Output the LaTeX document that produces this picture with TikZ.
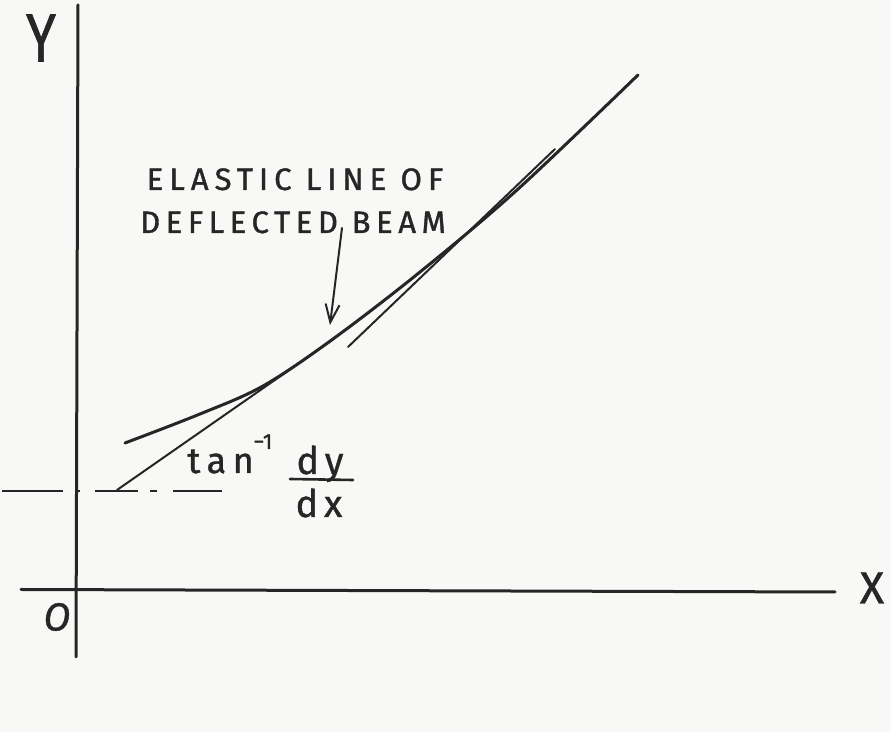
\documentclass[tikz,border=0pt]{standalone}
\usepackage{fontspec}
\setmainfont{Fira Sans}
\usetikzlibrary{arrows.meta}
\definecolor{ink}{RGB}{38,38,38}
\definecolor{paper}{RGB}{248,248,246}
\begin{document}
\begin{tikzpicture}[x=0.5pt,y=-0.5pt,
  axis/.style={draw=ink,line width=1.5pt,line cap=round},
  beamline/.style={draw=ink,line width=1.5pt,line cap=round},
  tangentline/.style={draw=ink,line width=1.0pt,line cap=round},
  refline/.style={draw=ink,line width=1.4pt,
     dash pattern=on 24.5pt off 8pt on 3.5pt off 6pt on 21.5pt off 7.5pt on 2.5pt off 6pt on 30.5pt off 8pt},
  pointer/.style={draw=ink,line width=1.0pt,line cap=round,-{Straight Barb[length=9pt,width=7pt,line width=1pt]}},
  lbl/.style={text=ink,inner sep=0pt}]
\fill[paper] (0,0) rectangle (891,732);
\useasboundingbox (0,0) rectangle (891,732);

% axes
\coordinate (yTop) at (78,5);
\coordinate (yBot) at (76,657);
\coordinate (xL) at (21,589.5);
\coordinate (xR) at (835,592);
\draw[axis] (yBot) -- (yTop);
\draw[axis] (xL) -- (xR);

% elastic line of the deflected beam
\draw[beamline] plot[smooth,tension=0.55] coordinates
  {(125,443) (200,414) (263,386) (333,339) (420,272) (517,190) (638,75)};

% tangent lines
\coordinate (t1a) at (117,490);
\coordinate (t1b) at (333,339.5);
\draw[tangentline] (t1a) -- (t1b);
\coordinate (t2a) at (348,347);
\coordinate (t2b) at (555,149);
\draw[tangentline] (t2a) -- (t2b);

% horizontal dash-dot reference
\coordinate (hR) at (222,491);
\coordinate (hL) at (2,491);
\draw[refline] (hR) -- (hL);

% labels
\node[lbl,font=\addfontfeatures{FakeBold=1}\fontsize{34}{34}\selectfont,xscale=0.8] (ylab) at (41,38) {Y};
\node[lbl,font=\addfontfeatures{FakeBold=1}\fontsize{22.5}{23}\selectfont] (xlab) at (872,588) {X};
\node[lbl,font=\itshape\addfontfeatures{FakeBold=1}\fontsize{19.6}{20}\selectfont] (olab) at (57,617) {O};

\node[lbl,anchor=base,font=\addfontfeatures{LetterSpace=19.5,FakeBold=1.2}\fontsize{15.5}{16}\selectfont] (l1) at (295,190) {ELASTIC LINE OF};
\node[lbl,anchor=base,font=\addfontfeatures{LetterSpace=18,FakeBold=1.2}\fontsize{15.5}{16}\selectfont] (l2) at (293,233) {DEFLECTED BEAM};

\coordinate (arS) at (342,228);
\coordinate (arE) at (330,325);
\draw[pointer] (arS) -- (arE);

\node[lbl,anchor=base west,font=\addfontfeatures{LetterSpace=18,FakeBold=1}\fontsize{18}{18}\selectfont] (tan) at (187,473) {tan};
\node[lbl,anchor=base west,font=\addfontfeatures{FakeBold=1}\fontsize{11}{11}\selectfont] (sup) at (253,449) {−1};
\node[lbl,anchor=base,font=\addfontfeatures{LetterSpace=15,FakeBold=1}\fontsize{19}{19}\selectfont] (dy) at (320,474) {dy};
\node[lbl,anchor=base,font=\addfontfeatures{LetterSpace=15,FakeBold=1}\fontsize{19}{19}\selectfont] (dx) at (319,517) {dx};
\coordinate (barL) at (290,479);
\coordinate (barR) at (353,480);
\draw[draw=ink,line width=1.3pt,line cap=round] (barL) -- (barR);
\end{tikzpicture}
\end{document}
